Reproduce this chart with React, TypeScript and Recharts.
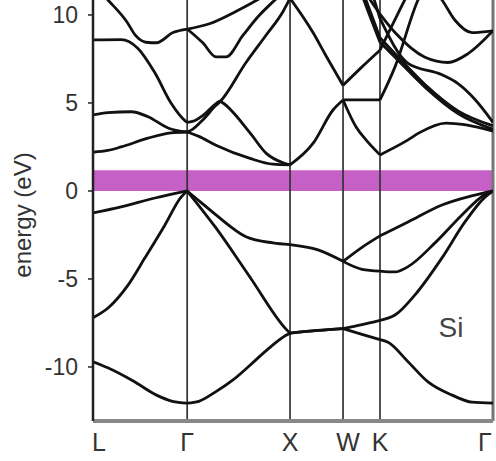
import { ComposedChart, Line, XAxis, YAxis, ReferenceLine, ReferenceArea } from 'recharts';

// high-symmetry points along the path
const kTicks = [0, 0.89, 1.862, 2.363, 2.712, 3.78];
const kLabels = ['L', 'Γ', 'X', 'W', 'K', 'Γ'];
const energyTicks = [-10, -5, 0, 5, 10];
const gapBand = [0, 1.17];

type Pt = [number, number];

// valence bands
const valence1: Pt[] = [
  [0, -9.7], [0.14, -10.05], [0.38, -10.8], [0.6, -11.6], [0.75, -11.95], [0.89, -12.05],
  [1.0, -11.95], [1.162, -11.4], [1.32, -10.75], [1.484, -9.9], [1.65, -9.0], [1.824, -8.2], [1.862, -8.08],
  [2.126, -7.92], [2.363, -7.82],
  [2.542, -8.15], [2.712, -8.45],
  [2.788, -8.6], [2.977, -9.7], [3.166, -10.85], [3.393, -11.6], [3.582, -12.0], [3.78, -12.05],
];
const valence2: Pt[] = [
  [0, -7.2], [0.142, -6.65], [0.331, -5.35], [0.491, -3.8], [0.68, -1.93], [0.832, -0.35], [0.89, 0],
  [1.162, -2.1], [1.484, -4.9], [1.824, -7.85], [1.862, -8.08],
  [2.126, -7.92], [2.363, -7.82],
  [2.542, -7.6], [2.712, -7.35],
  [2.854, -7.05], [3.043, -5.9], [3.298, -3.8], [3.515, -1.76], [3.704, -0.35], [3.78, 0],
];
const valence3: Pt[] = [
  [0, -1.25], [0.265, -0.9], [0.586, -0.4], [0.89, 0],
  [1.0, -0.55], [1.162, -1.36], [1.446, -2.6], [1.7, -2.95], [1.862, -3.05],
  [2.126, -3.35], [2.363, -4.0],
  [2.542, -4.45], [2.712, -4.55],
  [2.854, -4.6], [2.977, -4.3], [3.232, -2.95], [3.487, -1.36], [3.704, -0.2], [3.78, 0],
];
const valence4: Pt[] = [
  [2.363, -4.0], [2.542, -3.2], [2.712, -2.55],
  [2.977, -1.76], [3.298, -0.8], [3.704, -0.1], [3.78, 0],
];

// conduction bands
const cond1: Pt[] = [
  [0, 2.2], [0.14, 2.3], [0.265, 2.5], [0.52, 3.0], [0.737, 3.3], [0.89, 3.35],
  [1.0, 3.1], [1.162, 2.6], [1.484, 1.85], [1.7, 1.52], [1.862, 1.48],
  [2.079, 2.7], [2.268, 4.6], [2.363, 5.17],
  [2.485, 3.65], [2.58, 2.9], [2.712, 2.05],
  [2.977, 2.9], [3.081, 3.3], [3.336, 3.86], [3.525, 3.75], [3.78, 3.4],
];
const cond2: Pt[] = [
  [0, 4.32], [0.142, 4.45], [0.36, 4.5], [0.52, 4.22], [0.709, 3.58], [0.89, 3.35],
  [0.94, 3.5], [1.04, 4.05], [1.16, 4.85], [1.2, 5.07], [1.446, 7.3], [1.635, 8.85], [1.796, 10.2], [1.862, 10.95],
  [2.079, 9.0], [2.2, 7.7], [2.363, 6.0],
  [2.542, 7.05], [2.712, 8.0],
  [2.9, 10.3], [3.0, 11.5],
];
const cond3: Pt[] = [
  [0, 8.58], [0.265, 8.6], [0.425, 8.1], [0.586, 6.7], [0.737, 5.0], [0.869, 4.0], [0.89, 3.9],
  [0.94, 3.95], [1.04, 4.3], [1.16, 4.95], [1.2, 5.1], [1.228, 5.0], [1.484, 3.3], [1.635, 2.15], [1.796, 1.6], [1.862, 1.48],
];
const cond4: Pt[] = [
  [0, 11.8], [0.142, 10.85], [0.321, 9.6], [0.4, 8.85], [0.5, 8.45], [0.6, 8.42], [0.756, 9.0], [0.89, 9.2],
  [1.04, 8.4], [1.162, 7.62], [1.257, 7.62], [1.418, 8.85], [1.559, 9.9], [1.692, 10.7], [1.862, 11.6],
];
const cond5: Pt[] = [
  [0.89, 9.2], [1.1, 9.5], [1.35, 10.2], [1.55, 10.85], [1.75, 11.6],
];
const cond6: Pt[] = [
  [2.363, 5.17], [2.712, 5.17],
  [2.854, 7.05], [3.071, 10.85], [3.15, 11.8],
];
const cond7: Pt[] = [
  [2.5, 11.8], [2.6, 10.2], [2.712, 8.45],
  [2.854, 7.6], [3.137, 5.9], [3.449, 4.4], [3.78, 3.5],
];
const cond8: Pt[] = [
  [2.52, 11.8], [2.62, 10.2], [2.712, 8.7],
  [2.854, 7.8], [3.137, 6.05], [3.449, 4.55], [3.78, 3.7],
];
const cond9: Pt[] = [
  [2.5, 12.0], [2.665, 10.45], [2.712, 10.05],
  [2.854, 9.0], [3.137, 7.6], [3.355, 7.3], [3.544, 7.8], [3.78, 9.1],
];
const cond10: Pt[] = [
  [2.62, 11.6], [2.712, 9.8],
  [2.977, 7.25], [3.298, 6.6], [3.449, 6.1], [3.61, 5.2], [3.78, 3.9],
];
const cond11: Pt[] = [
  [3.2, 11.6], [3.298, 10.85], [3.421, 9.7], [3.582, 9.0], [3.78, 9.1],
];

const bands = [
  valence1, valence2, valence3, valence4,
  cond1, cond2, cond3, cond4, cond5, cond6, cond7, cond8, cond9, cond10, cond11,
];

// cut each band at the high-symmetry points so kinks stay sharp
function splitBand(pts: Pt[]) {
  const segs: { k: number; e: number }[][] = [];
  for (let s = 0; s < kTicks.length - 1; s++) {
    const a = kTicks[s] - 1e-6;
    const b = kTicks[s + 1] + 1e-6;
    const seg = pts.filter(([k]) => k >= a && k <= b).map(([k, e]) => ({ k, e }));
    if (seg.length >= 2) segs.push(seg);
  }
  return segs;
}

const segments = bands.flatMap(splitBand);

// small nudges so the labels sit like the original (last one kept inside the frame)
const labelShift = [6, 0, 0, 5, 0, -8];

function KTick(props: any) {
  const { x, y, payload } = props;
  const idx = kTicks.indexOf(payload.value);
  const label = kLabels[idx] ?? '';
  return (
    <text
      x={x + (labelShift[idx] ?? 0)}
      y={y}
      dy="0.71em"
      textAnchor="middle"
      fontSize={25}
      fontFamily="Liberation Sans, Arial, sans-serif"
      fill="#333"
    >
      {label}
    </text>
  );
}

export default function App() {
  return (
    <div style={{ position: 'absolute', left: 0, top: 0, width: 496, height: 461, background: '#fff' }}>
      <ComposedChart width={496} height={461} margin={{ top: 0, right: 3, bottom: 0, left: 0 }}>
        <XAxis
          dataKey="k"
          type="number"
          domain={[0, 3.78]}
          ticks={kTicks}
          interval={0}
          tick={<KTick />}
          tickLine={false}
          tickMargin={6}
          axisLine={{ stroke: '#888', strokeWidth: 4 }}
          height={40}
          allowDataOverflow
        />
        <YAxis
          type="number"
          domain={[-13.07, 10.85]}
          ticks={energyTicks}
          interval={0}
          allowDataOverflow
          width={93}
          tickSize={5}
          tickMargin={10}
          tickLine={{ stroke: '#222', strokeWidth: 1.5 }}
          axisLine={{ stroke: '#222', strokeWidth: 2.5 }}
          tick={{ fontSize: 23, fill: '#333', fontFamily: 'Liberation Sans, Arial, sans-serif' }}
          label={{
            content: () => (
              <text
                transform="translate(22,215) rotate(-90)"
                textAnchor="middle"
                dominantBaseline="central"
                fontSize={24}
                fontFamily="Liberation Sans, Arial, sans-serif"
                fill="#333"
              >
                energy (eV)
              </text>
            ),
          }}
        />
        <ReferenceArea
          x1={0}
          x2={3.78}
          y1={gapBand[0]}
          y2={gapBand[1]}
          fill="#c460c6"
          fillOpacity={1}
          stroke="none"
          ifOverflow="hidden"
        />
        {kTicks.slice(1, -1).map((k) => (
          <ReferenceLine key={k} x={k} stroke="#333" strokeWidth={1.7} />
        ))}
        <ReferenceLine x={3.78} stroke="#777" strokeWidth={3} />
        {segments.map((seg, i) => (
          <Line
            key={i}
            data={seg}
            dataKey="e"
            type="monotone"
            stroke="#111"
            strokeWidth={2.8}
            dot={false}
            activeDot={false}
            legendType="none"
            isAnimationActive={false}
          />
        ))}
        <text
          x={451}
          y={337}
          textAnchor="middle"
          fontSize={28}
          fontFamily="Liberation Sans, Arial, sans-serif"
          fill="#444"
        >
          Si
        </text>
      </ComposedChart>
    </div>
  );
}
